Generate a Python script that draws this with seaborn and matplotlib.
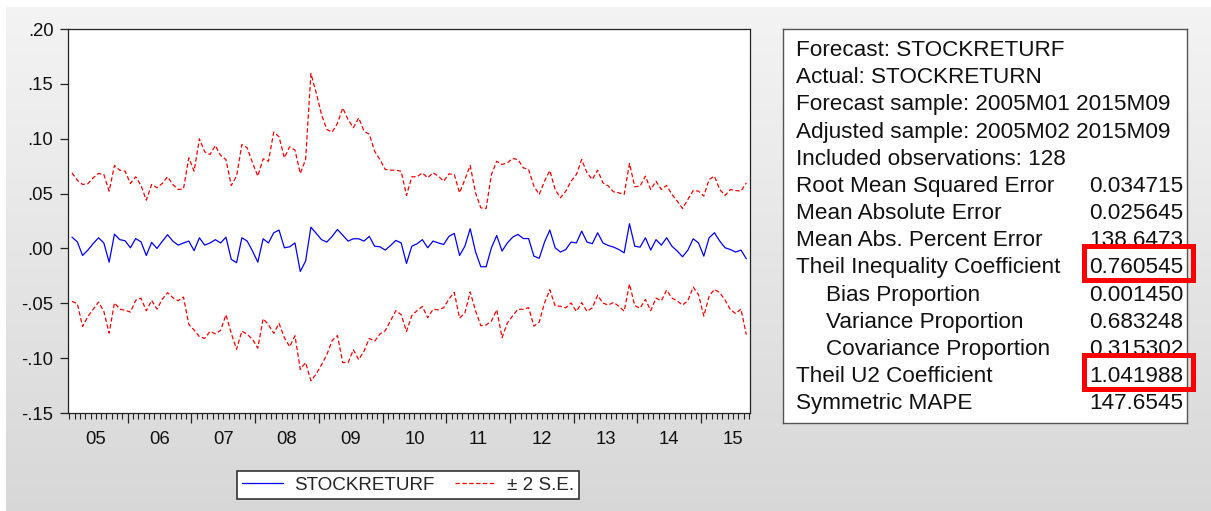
import numpy as np
import pandas as pd
import matplotlib
matplotlib.use('Agg')
import matplotlib.pyplot as plt
import seaborn as sns
from matplotlib.patches import Rectangle
from matplotlib.lines import Line2D

# monthly forecast sample (adjusted), 2005M02 - 2015M09
periods = pd.period_range('2005-02', '2015-09', freq='M')

forecast = [
    0.0103, 0.006, -0.0064, -0.0015, 0.0045, 0.0097, 0.005, -0.0125, 0.013, 0.008,
    0.007, 0.0006, 0.009, 0.006, -0.0064, 0.0055, 0.0, 0.0064, 0.0125, 0.0067,
    0.003, 0.005, 0.0067, -0.002, 0.0097, 0.003, 0.005, 0.008, 0.005, 0.0103,
    -0.010, -0.013, 0.0097, 0.0067, -0.0024, -0.0125, 0.0088, 0.005, 0.0143, 0.0167,
    0.0006, 0.0015, 0.005, -0.021, -0.0115, 0.0194, 0.0137, 0.008, 0.0058, 0.011,
    0.0173, 0.012, 0.0067, 0.0088, 0.0088, 0.0067, 0.011, 0.002, 0.0015, -0.0015,
    0.0027, 0.0073, 0.005, -0.0137, 0.002, 0.0043, 0.008, 0.0006, 0.0067, 0.005,
    0.0036, 0.011, 0.0137, -0.0064, 0.002, 0.018, -0.003, -0.0167, -0.0167, 0.0006,
    0.0118, -0.0024, 0.005, 0.0103, 0.0128, 0.009, 0.009, -0.007, -0.009, 0.0058,
    0.0167, 0.0006, -0.0033, -0.001, 0.0058, 0.005, 0.0158, 0.0058, 0.0043, 0.0143,
    0.005, 0.0027, 0.0012, -0.001, -0.004, 0.0225, 0.002, 0.0012, 0.0097, -0.0015,
    0.008, 0.003, 0.0097, 0.002, -0.0024, -0.0076, -0.0015, 0.0088, 0.005, -0.007,
    0.0097, 0.0143, 0.0067, 0.0006, -0.001, -0.0033, -0.0015, -0.0094,
]

# 2 x forecast standard error
two_se = [
    0.0586, 0.0562, 0.0647, 0.0605, 0.0599, 0.0586, 0.0624, 0.0647, 0.0626, 0.0633,
    0.0634, 0.0586, 0.0563, 0.0514, 0.0504, 0.0528, 0.0553, 0.0528, 0.0528, 0.0516,
    0.0507, 0.0493, 0.0759, 0.0724, 0.0902, 0.085, 0.0806, 0.0858, 0.0797, 0.0707,
    0.0674, 0.0789, 0.085, 0.085, 0.0804, 0.0784, 0.0729, 0.0745, 0.0917, 0.085,
    0.082, 0.0911, 0.0846, 0.0893, 0.0925, 0.14, 0.1281, 0.114, 0.1026, 0.095,
    0.0967, 0.116, 0.1108, 0.1012, 0.1102, 0.1003, 0.093, 0.0866, 0.0795, 0.0735,
    0.0686, 0.064, 0.0654, 0.062, 0.0633, 0.061, 0.0609, 0.0638, 0.0622, 0.0609,
    0.0577, 0.057, 0.0537, 0.0571, 0.0608, 0.0576, 0.0537, 0.0537, 0.0531, 0.0668,
    0.0677, 0.0789, 0.073, 0.0717, 0.0682, 0.0645, 0.063, 0.0638, 0.0582, 0.0555,
    0.0543, 0.0531, 0.0494, 0.0532, 0.0555, 0.0624, 0.0652, 0.0631, 0.0585, 0.057,
    0.0548, 0.0543, 0.0504, 0.0517, 0.0532, 0.0549, 0.0542, 0.0556, 0.0562, 0.0552,
    0.0533, 0.0507, 0.0477, 0.0472, 0.0455, 0.044, 0.0461, 0.044, 0.0472, 0.0547,
    0.0531, 0.0516, 0.047, 0.0477, 0.0547, 0.0561, 0.0537, 0.0692,
]

year_labels = ['05', '06', '07', '08', '09', '10', '11', '12', '13', '14', '15']
y_ticks = [-0.15, -0.10, -0.05, 0.0, 0.05, 0.10, 0.15, 0.20]
y_tick_labels = ['-.15', '-.10', '-.05', '.00', '.05', '.10', '.15', '.20']

header_lines = [
    'Forecast: STOCKRETURF',
    'Actual: STOCKRETURN',
    'Forecast sample: 2005M01 2015M09',
    'Adjusted sample: 2005M02 2015M09',
    'Included observations: 128',
]
stat_names = [
    'Root Mean Squared Error', 'Mean Absolute Error', 'Mean Abs. Percent Error',
    'Theil Inequality Coefficient', 'Bias Proportion', 'Variance Proportion',
    'Covariance Proportion', 'Theil U2 Coefficient', 'Symmetric MAPE',
]
stat_values = ['0.034715', '0.025645', '138.6473', '0.760545', '0.001450',
               '0.683248', '0.315302', '1.041988', '147.6545']
stat_indented = [False, False, False, False, True, True, True, False, False]
highlighted = ['Theil Inequality Coefficient', 'Theil U2 Coefficient']

# month index, 0 = 2005M01
t = (periods.year - 2005) * 12 + periods.month - 1
f = np.array(forecast)
se = np.array(two_se)
df = pd.DataFrame({'t': t, 'forecast': f, 'upper': f + se, 'lower': f - se})

sns.set_style('ticks')
plt.rcParams['font.family'] = ['Liberation Sans', 'DejaVu Sans']

W, H = 1211, 511
fig = plt.figure(figsize=(W / 100, H / 100), dpi=100)
fig.patch.set_facecolor('white')

# grey gradient panel behind everything
bg = fig.add_axes([0, 0, 1, 1], zorder=-10)
bg.set_xlim(0, W)
bg.set_ylim(H, 0)
bg.axis('off')
shade = np.linspace(0.955, 0.845, 256)
grad = np.repeat(shade[:, None, None], 3, axis=2)
bg.imshow(grad, extent=[6, W, H, 7], aspect='auto', interpolation='bilinear')

# main plot
ax = fig.add_axes([68 / W, (H - 413) / H, 682 / W, 384 / H])
ax.set_facecolor('white')
sns.lineplot(data=df, x='t', y='forecast', ax=ax, color='#0000ff', lw=0.9, legend=False)
red_ls = (0, (3.5, 2))
sns.lineplot(data=df, x='t', y='upper', ax=ax, color='#ff0000', lw=0.9, linestyle=red_ls, legend=False)
sns.lineplot(data=df, x='t', y='lower', ax=ax, color='#ff0000', lw=0.9, linestyle=red_ls, legend=False)

ax.set_xlim(0.25, 128.7)
ax.set_ylim(-0.15, 0.20)
ax.set_xlabel('')
ax.set_ylabel('')

n_years = len(year_labels)
ax.set_xticks([11.5 + 12 * k for k in range(n_years - 1)], labels=[])
ax.set_xticks([m + 0.5 for m in range(0, 129)], minor=True)
ax.tick_params(axis='x', which='major', length=7.5, width=0.9, direction='out', color='#222222')
ax.tick_params(axis='x', which='minor', length=4.2, width=0.8, direction='out', color='#222222')
ax.set_yticks(y_ticks, labels=y_tick_labels)
ax.tick_params(axis='y', which='major', length=5.5, width=0.9, pad=5, labelsize=13.3,
               direction='out', color='#222222', labelcolor='#111111')
ax.yaxis.set_minor_locator(matplotlib.ticker.NullLocator())
for s in ax.spines.values():
    s.set_visible(True)
    s.set_color('#222222')
    s.set_linewidth(0.9)

sec = ax.secondary_xaxis('bottom')
sec.set_xticks([5.5 + 12 * k for k in range(n_years)], labels=year_labels)
sec.tick_params(length=0, pad=13, labelsize=13.3, labelcolor='#111111')
sec.spines['bottom'].set_visible(False)

handles = [
    Line2D([], [], color='#0000ff', lw=0.9),
    Line2D([], [], color='#ff0000', lw=0.9, linestyle=red_ls),
]
leg = fig.legend(handles, ['STOCKRETURF', '\u00b1 2 S.E.'], loc='center',
                 bbox_to_anchor=(408 / W, (H - 485) / H), ncol=2, fontsize=13.6,
                 frameon=True, fancybox=False, edgecolor='#333333', framealpha=1,
                 handlelength=2.15, handletextpad=0.6, columnspacing=1.05,
                 borderpad=0.3)
leg.get_frame().set_linewidth(1.2)

# statistics box
tb = fig.add_axes([783 / W, (H - 423) / H, 404 / W, 394 / H])
tb.set_xlim(783, 1187)
tb.set_ylim(423, 29)
tb.set_xticks([])
tb.set_yticks([])
tb.set_facecolor('white')
for s in tb.spines.values():
    s.set_color('#555555')
    s.set_linewidth(1.0)

step = 27.18
row = 0
for line in header_lines:
    tb.text(796, 56 + step * row, line, fontsize=16.2, va='baseline', ha='left', color='#111111')
    row += 1
for name, val, ind in zip(stat_names, stat_values, stat_indented):
    y = 56 + step * row
    tb.text(826.5 if ind else 796, y, name, fontsize=16.2, va='baseline', ha='left', color='#111111')
    tb.text(1183, y, val, fontsize=16.2, va='baseline', ha='right', color='#111111')
    if name in highlighted:
        tb.add_patch(Rectangle((1084, y - 27.5), 108.7, 34.5, fill=False, edgecolor='#ff0000',
                               lw=3.6, clip_on=False, zorder=5))
    row += 1

fig.savefig('out.png', dpi=100)
